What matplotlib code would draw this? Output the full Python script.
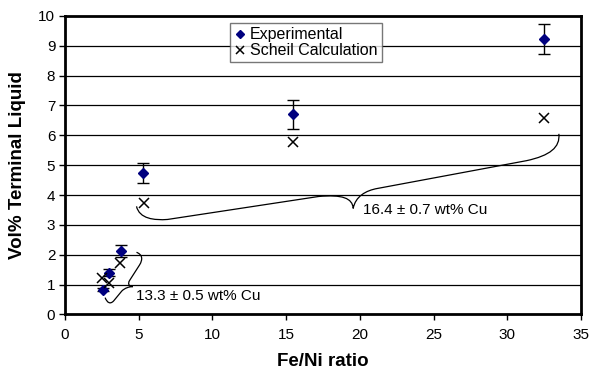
import matplotlib.pyplot as plt
from matplotlib.path import Path
from matplotlib.patches import PathPatch

plt.rcParams['font.family'] = ['Liberation Sans', 'DejaVu Sans']

# data
fe_ni = [2.55, 3.0, 3.78, 5.3, 15.5, 32.5]
vol_exp = [0.82, 1.40, 2.12, 4.74, 6.70, 9.24]
vol_err = [0.05, 0.13, 0.2, 0.34, 0.5, 0.5]
fe_ni_scheil = [2.52, 3.0, 3.75, 5.33, 15.5, 32.5]
vol_scheil = [1.23, 1.06, 1.73, 3.73, 5.77, 6.58]

x_ticks = [0, 5, 10, 15, 20, 25, 30, 35]
y_ticks = list(range(0, 11))

label_low = "13.3 \u00b1 0.5 wt% Cu"
label_high = "16.4 \u00b1 0.7 wt% Cu"

fig = plt.figure(figsize=(5.91, 3.72), dpi=100)
ax = fig.add_axes([0.110, 0.155, 0.873, 0.802])

for y in y_ticks[1:-1]:
    ax.axhline(y, color="black", lw=0.9, zorder=1)

ax.errorbar(fe_ni, vol_exp, yerr=vol_err, fmt="none", ecolor="black",
            elinewidth=1, capsize=4, capthick=1, zorder=3)
ax.plot(fe_ni, vol_exp, linestyle="none", marker="D", markersize=5,
        color="#00007f", label="Experimental", zorder=4)
ax.plot(fe_ni_scheil, vol_scheil, linestyle="none", marker="x", markersize=7,
        markeredgewidth=1.1, color="black", label="Scheil Calculation", zorder=4)

# curly braces grouping the points
big_brace = Path(
    [(4.85, 3.62), (5.05, 3.2), (6.05, 3.15), (6.95, 3.18),
     (17.2, 3.95),
     (18.8, 4.02), (19.5, 3.9), (19.55, 3.55),
     (19.7, 3.95), (20.4, 4.15), (21.2, 4.22),
     (31.3, 5.15),
     (32.9, 5.32), (33.6, 5.6), (33.5, 6.05)],
    [Path.MOVETO, Path.CURVE4, Path.CURVE4, Path.CURVE4,
     Path.LINETO,
     Path.CURVE4, Path.CURVE4, Path.CURVE4,
     Path.CURVE4, Path.CURVE4, Path.CURVE4,
     Path.LINETO,
     Path.CURVE4, Path.CURVE4, Path.CURVE4])
small_brace = Path(
    [(4.85, 2.08), (5.25, 2.0), (5.3, 1.85), (5.05, 1.65),
     (4.4, 1.15),
     (4.2, 1.0), (4.4, 0.93), (4.6, 0.93),
     (4.35, 0.93), (4.05, 0.88), (3.85, 0.78),
     (3.3, 0.45),
     (3.05, 0.32), (2.85, 0.4), (2.72, 0.56)],
    [Path.MOVETO, Path.CURVE4, Path.CURVE4, Path.CURVE4,
     Path.LINETO,
     Path.CURVE4, Path.CURVE4, Path.CURVE4,
     Path.CURVE4, Path.CURVE4, Path.CURVE4,
     Path.LINETO,
     Path.CURVE4, Path.CURVE4, Path.CURVE4])
for p in (big_brace, small_brace):
    ax.add_patch(PathPatch(p, facecolor="none", edgecolor="black", lw=0.9, zorder=2))

ax.text(20.2, 3.5, label_high, fontsize=11, va="center", ha="left")
ax.text(4.8, 0.6, label_low, fontsize=11, va="center", ha="left")

ax.set_xlim(0, 35)
ax.set_ylim(0, 10)
ax.set_xticks(x_ticks)
ax.set_yticks(y_ticks)
ax.tick_params(direction="out", length=4, width=1, labelsize=11, pad=3)
ax.tick_params(axis="x", pad=6)
for s in ax.spines.values():
    s.set_linewidth(2)

ax.set_xlabel("Fe/Ni ratio", fontsize=13.5, fontweight="bold", labelpad=8)
ax.set_ylabel("Vol% Terminal Liquid", fontsize=13.5, fontweight="bold", labelpad=9)

leg = ax.legend(loc="upper left", bbox_to_anchor=(0.320, 0.975), fontsize=11.5,
                frameon=True, fancybox=False, handlelength=0.7, handletextpad=0.3,
                borderpad=0.25, labelspacing=0.05, borderaxespad=0, markerscale=0.8)
leg.get_frame().set_edgecolor("#555555")
leg.get_frame().set_linewidth(1)

fig.savefig("out.png", dpi=100)
